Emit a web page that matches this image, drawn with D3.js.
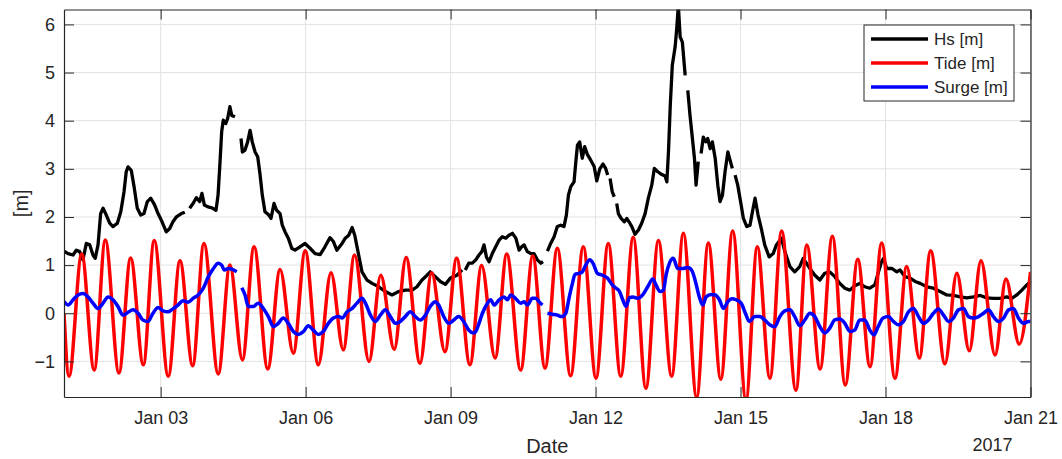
<!DOCTYPE html>
<html>
<head>
<meta charset="utf-8">
<script src="https://cdn.jsdelivr.net/npm/d3@7"></script>
<style>
  html, body { margin: 0; padding: 0; background: #fff; }
  svg { display: block; font-family: "Liberation Sans", Arial, Helvetica, sans-serif; }
</style>
</head>
<body>
<svg id="chart" width="1062" height="459"></svg>
<script>
// Time axis: 1-21 January 2017 (UTC), samples given as [hours since start, value]
const startDate = Date.UTC(2017, 0, 1);
const endDate = Date.UTC(2017, 0, 21);
const xTickDays = [3, 6, 9, 12, 15, 18, 21];
const yTicks = [-1, 0, 1, 2, 3, 4, 5, 6];
const yLimits = [-1.74, 6.31];
const yearLabel = "2017";
const seriesNames = ["Hs [m]", "Tide [m]", "Surge [m]"];
const seriesColors = ["#000000", "#ff0000", "#0000ff"];

// Significant wave height (null = missing record)
const hs = [[0,1.29],[2,1.24],[4.5,1.21],[6.1,1.31],[7.8,1.28],[9.4,1.11],[11.1,1.45],[12.8,1.42],[14.4,1.21],[15.5,1.14],[16.9,1.42],[18.2,2.07],[19.4,2.18],[21,2.04],[22.7,1.87],[24.3,1.8],[26.5,1.87],[28.2,2.11],[29.8,2.52],[30.9,2.94],[31.8,3.04],[33.4,2.97],[34.8,2.63],[36.4,2.18],[38.1,2.04],[39.7,2.07],[41.4,2.32],[43.1,2.39],[45,2.25],[46.7,2.07],[48.7,1.9],[50.8,1.69],[52.5,1.76],[54.1,1.9],[55.8,2],[58.3,2.07],[60,2.1],[61.2,null],[62.4,2.18],[64.1,2.28],[65.7,2.4],[67.4,2.32],[68.5,2.49],[69.7,2.25],[71.5,2.21],[73.5,2.19],[75.5,2.14],[76.5,2.45],[77.5,3.15],[78.3,3.77],[79.1,4.01],[80.3,3.94],[81.3,4.05],[82.4,4.29],[83.3,4.11],[84.9,4.08],[86.4,null],[87.9,3.63],[88.6,3.35],[89.9,3.39],[91.2,3.56],[92.4,3.8],[93.5,3.56],[94.9,3.35],[96.2,3.25],[97.4,2.87],[98.5,2.45],[99.8,2.11],[101.5,2.05],[102.8,1.97],[104.3,2.28],[105.6,2.14],[107.3,2.07],[108.4,1.83],[109.8,1.69],[111.4,1.56],[113.1,1.35],[114.7,1.31],[117.2,1.38],[119.7,1.45],[122.2,1.35],[124.7,1.24],[127.2,1.22],[129.6,1.38],[132.1,1.57],[133.8,1.49],[135.5,1.31],[138.1,1.45],[139.7,1.56],[141.4,1.62],[143.1,1.78],[144.4,1.62],[146,1.28],[148,0.86],[150.5,0.69],[153,0.62],[156.3,0.55],[159.6,0.45],[162.9,0.38],[166.2,0.45],[169.5,0.48],[172.9,0.48],[175.3,0.55],[177.8,0.69],[180.3,0.79],[181.9,0.86],[184.4,0.76],[186.9,0.66],[189.4,0.6],[191.9,0.73],[195.2,0.79],[197.7,0.9],[198.5,null],[199.3,0.9],[201,1.04],[202.8,1.04],[204.5,1.11],[206.1,1.21],[207.5,1.28],[208.6,1.42],[209.8,1.17],[211.1,1.07],[212.7,1.24],[214.4,1.38],[216.1,1.52],[217.7,1.59],[219.4,1.56],[221,1.62],[222.7,1.66],[224.4,1.56],[226,1.31],[227.3,1.38],[228.5,1.42],[230.1,1.28],[231.8,1.24],[233.4,1.24],[235.1,1.11],[236.8,1.04],[237.9,1.07],[239,null],[240.1,1.29],[241.7,1.45],[243.4,1.59],[245,1.8],[246.7,1.83],[248.3,1.8],[249.5,2.04],[250.5,2.45],[251.7,2.63],[253.3,2.73],[254.2,3.15],[255,3.49],[256.1,3.56],[257.4,3.22],[258.6,3.46],[259.9,3.3],[261.6,3.18],[263.3,3.05],[264.6,2.75],[266.1,3.0],[267.7,3.1],[269,3.01],[270,2.87],[270.6,null],[271.2,2.8],[272.3,2.52],[273.3,2.42],[273.8,null],[274.5,2.28],[275.3,2.07],[276.7,1.97],[278.3,1.9],[279.5,1.97],[280.6,1.9],[282,1.8],[283.6,1.64],[285.3,1.73],[286.9,1.87],[288.6,2.07],[290.2,2.39],[291.9,2.66],[293.2,3.01],[294.9,2.94],[296.9,2.88],[298.5,2.85],[299.4,2.73],[300.2,3.35],[301.1,4.32],[302.1,5.15],[303.5,5.53],[304.3,5.91],[305.1,6.4],[306,5.74],[307.1,5.63],[308.5,4.94],[309.2,null],[309.8,4.63],[310.9,4.11],[312.1,3.63],[313.1,3.22],[313.9,2.66],[315,3.15],[315.8,null],[316.4,3.32],[317.5,3.66],[318.7,3.56],[319.7,3.63],[320.9,3.42],[322,3.56],[323.4,3.22],[324.7,2.66],[325.8,2.32],[327,2.45],[328.3,2.94],[329.7,3.35],[330.8,3.18],[331.9,3.01],[332.6,null],[333.3,2.87],[334.6,2.66],[336.3,2.25],[337.4,1.97],[339.1,1.8],[340.7,1.83],[341.9,2.11],[343.2,2.39],[344.7,2.04],[346.3,1.76],[348,1.42],[350.2,1.17],[352.2,1.24],[353.8,1.42],[356.3,1.56],[358,1.28],[360.5,0.97],[362.9,0.86],[365.4,0.97],[367.1,1.14],[368.7,1.04],[370.4,0.93],[372.9,0.79],[375.4,0.69],[377.8,0.83],[380.3,0.86],[382.8,0.76],[385.3,0.62],[387.8,0.52],[390.3,0.48],[392.7,0.57],[395.2,0.62],[397.7,0.55],[400.2,0.52],[402.7,0.59],[404.3,0.83],[406,1.07],[407,1.14],[408.6,0.93],[411.1,0.93],[413.6,0.86],[415.2,0.9],[417.7,0.76],[420.2,0.73],[422.7,0.66],[425.2,0.62],[428.5,0.55],[431.8,0.52],[435.1,0.45],[438.4,0.38],[441.7,0.37],[445.1,0.34],[448.4,0.32],[451.7,0.34],[455,0.37],[458.3,0.32],[461.6,0.31],[464.9,0.31],[468.2,0.34],[470.7,0.31],[473.2,0.38],[475.7,0.48],[478.2,0.59],[480,0.66]];

// Tide level: high and low waters
const tide = [[0,0],[2.5,-1.31],[8.8,1.23],[15,-1.18],[20.5,1.52],[27.3,-1.24],[33.1,1.15],[39.4,-1.07],[44.8,1.51],[51.8,-1.31],[57.6,1.09],[63.9,-1.09],[69.5,1.45],[76.6,-1.26],[82.4,1.0],[88.6,-0.97],[94.4,1.38],[101.2,-1.16],[107.3,0.91],[113.9,-0.83],[119.8,1.3],[126.3,-1.07],[132.6,0.84],[138.7,-0.76],[144.3,1.21],[151.5,-1.0],[157.3,0.79],[164,-0.75],[169.9,1.16],[176.8,-1.04],[182.6,0.84],[189.2,-0.8],[195,1.14],[201.6,-1.07],[207.4,0.99],[214.1,-0.93],[219.9,1.23],[226.8,-1.18],[232.8,1.19],[238.9,-1.14],[245,1.35],[251.6,-1.3],[257.9,1.38],[264.2,-1.35],[270.3,1.45],[276.5,-1.31],[282.7,1.58],[289,-1.56],[295.2,1.51],[301.8,-1.31],[307.6,1.66],[314.2,-1.75],[320,1.46],[326.2,-1.37],[332.1,1.71],[338.7,-1.8],[344.3,1.38],[350.6,-1.35],[356.4,1.71],[363.5,-1.6],[368.9,1.42],[375.5,-1.16],[381.6,1.6],[388,-1.49],[394.2,1.12],[400.3,-1.11],[406.1,1.46],[412.7,-1.35],[418.5,0.97],[424.8,-0.93],[430.4,1.3],[437.5,-1.05],[443.4,0.83],[449.6,-0.78],[455.4,1.09],[462.4,-0.87],[467.8,0.71],[474.4,-0.64],[480,0.86]];

// Storm surge residual (null = missing record)
const surge = [[0,0.24],[2,0.17],[4.5,0.28],[7,0.38],[9.4,0.41],[11.9,0.34],[14.4,0.21],[16.9,0.1],[19.4,0.21],[21.9,0.34],[24.3,0.28],[26.8,0.14],[29.3,-0.04],[31.8,0.02],[34.3,0.07],[36.8,0],[39.2,-0.14],[41.7,-0.17],[44.2,0],[46.7,0.12],[49.2,0.05],[51.7,0.03],[54.1,0.09],[56.6,0.17],[59.1,0.26],[61.6,0.23],[64.1,0.31],[66.6,0.38],[69.2,0.52],[71.7,0.76],[74.2,0.93],[76.6,1.04],[78.3,1.0],[79.6,0.9],[81.6,0.93],[83.6,0.91],[85.8,0.86],[86.5,null],[88.3,0.53],[89.9,0.38],[91.5,0.14],[94,0.14],[96.5,0.21],[99,0.1],[101.5,-0.07],[104,-0.28],[106.4,-0.21],[108.9,-0.1],[111.4,-0.21],[113.9,-0.38],[116.4,-0.44],[118.9,-0.38],[121.3,-0.26],[123.8,-0.35],[126.3,-0.44],[128.8,-0.38],[131.3,-0.21],[133.8,-0.1],[136.3,-0.07],[138.1,-0.1],[140.6,0.03],[143.1,0.1],[145.5,0.21],[148,0.31],[149.7,0.21],[152.2,-0.04],[154.6,-0.17],[157.1,-0.04],[159.6,0.07],[162.1,-0.07],[164.6,-0.21],[167,-0.17],[169.5,-0.07],[172,0.03],[174.5,-0.07],[177,-0.14],[179.5,-0.04],[181.9,0.14],[184.4,0.24],[186.1,0.17],[188.6,-0.07],[191.1,-0.21],[193.6,-0.14],[196,-0.07],[198.5,-0.17],[201,-0.35],[203.5,-0.41],[204.5,-0.38],[206.1,-0.21],[207.8,0],[210.3,0.21],[211.9,0.28],[213.6,0.17],[216.1,0.28],[218.5,0.34],[220.2,0.28],[221.9,0.38],[224.4,0.3],[226.8,0.21],[228.5,0.24],[230.1,0.17],[232.6,0.31],[234.3,0.31],[235.9,0.24],[237.6,0.17],[238.8,null],[240.1,0],[242.5,-0.02],[245,-0.04],[247.2,-0.07],[249.2,0],[250.8,0.31],[252.5,0.62],[253.8,0.81],[255.8,0.83],[257.4,0.86],[259.1,1.0],[261.1,1.11],[262.7,1.04],[264.9,0.83],[267.4,0.79],[269.9,0.73],[272.3,0.59],[274.2,0.52],[275.8,0.46],[277.5,0.28],[279.1,0.14],[280.8,0.32],[282.5,0.34],[285,0.31],[287.4,0.38],[289.9,0.55],[292.4,0.71],[294,0.59],[296,0.45],[297.7,0.48],[299,0.79],[300.7,1.04],[302.6,1.14],[304.8,0.93],[307.3,0.93],[309.8,0.95],[311.9,0.88],[313.6,0.66],[315.5,0.34],[317.2,0.17],[318.9,0.34],[321.4,0.39],[323.5,0.38],[325.5,0.28],[327.5,0.1],[329.7,0.24],[331.8,0.3],[333.8,0.28],[336.3,0.21],[338.4,0],[340.4,-0.17],[343.1,-0.07],[345.5,-0.07],[348,-0.14],[350.5,-0.24],[353,-0.28],[355.5,-0.07],[358,0.05],[360.5,0.07],[362.9,-0.07],[365.4,-0.26],[367.9,-0.14],[370.4,0],[372.9,-0.07],[375.4,-0.28],[377.8,-0.41],[380.3,-0.31],[382.8,-0.14],[385.3,-0.12],[387.8,-0.21],[390.3,-0.38],[392.7,-0.35],[395.2,-0.14],[397.7,-0.14],[400.2,-0.35],[402.3,-0.45],[404.3,-0.28],[406.8,-0.1],[409.4,-0.07],[411.9,-0.17],[414.4,-0.24],[416.9,-0.17],[419.4,0.03],[421.9,0.1],[424.4,-0.07],[426.8,-0.21],[429.3,-0.14],[431.8,0],[434.3,0.09],[436.8,-0.04],[439.3,-0.17],[441.7,-0.1],[444.2,0.07],[446.7,0.1],[449.2,-0.07],[451.7,-0.1],[454.2,-0.07],[456.7,0],[459.2,0.07],[461.6,-0.07],[464.1,-0.17],[466.6,-0.1],[469.1,0.07],[471.5,0.1],[474,-0.1],[476.5,-0.21],[479,-0.17],[480,-0.17]];

// ---- layout ----
const plot = { left: 64, right: 1030.5, top: 9.5, bottom: 397 };
const axisColor = "#262626";
const gridColor = "#e2e2e2";

const svg = d3.select("#chart");
const x = d3.scaleUtc().domain([startDate, endDate]).range([plot.left, plot.right]);
const y = d3.scaleLinear().domain(yLimits).range([plot.bottom, plot.top]);
const toDate = h => new Date(startDate + h * 3600000);
const tickDates = xTickDays.map(d => new Date(Date.UTC(2017, 0, d)));

// grid
const grid = svg.append("g").attr("stroke", gridColor).attr("stroke-width", 1);
grid.selectAll(".gx").data(tickDates).join("line")
  .attr("x1", d => x(d)).attr("x2", d => x(d))
  .attr("y1", plot.top).attr("y2", plot.bottom);
grid.selectAll(".gy").data(yTicks).join("line")
  .attr("x1", plot.left).attr("x2", plot.right)
  .attr("y1", d => y(d)).attr("y2", d => y(d));

// data
svg.append("defs").append("clipPath").attr("id", "plotClip")
  .append("rect")
  .attr("x", plot.left).attr("y", plot.top)
  .attr("width", plot.right - plot.left).attr("height", plot.bottom - plot.top);

const lines = svg.append("g").attr("clip-path", "url(#plotClip)")
  .attr("fill", "none").attr("stroke-linejoin", "round").attr("stroke-linecap", "butt");

const rawLine = d3.line().defined(d => d[1] !== null)
  .x(d => x(toDate(d[0]))).y(d => y(d[1]));
const smoothLine = d3.line().defined(d => d[1] !== null)
  .x(d => x(toDate(d[0]))).y(d => y(d[1])).curve(d3.curveMonotoneX);

lines.append("path").datum(hs).attr("d", rawLine)
  .attr("stroke", seriesColors[0]).attr("stroke-width", 3.3);
lines.append("path").datum(tide).attr("d", smoothLine)
  .attr("stroke", seriesColors[1]).attr("stroke-width", 3.5);
lines.append("path").datum(surge).attr("d", smoothLine)
  .attr("stroke", seriesColors[2]).attr("stroke-width", 3.5);

// axes (ticks drawn inward on all four sides)
function styleAxis(g) {
  g.attr("font-family", null).attr("font-size", null);
  g.select(".domain").attr("stroke", axisColor).attr("stroke-width", 1.2);
  g.selectAll(".tick line").attr("stroke", axisColor).attr("stroke-width", 1);
  g.selectAll(".tick text").attr("fill", axisColor).attr("font-size", 18);
}
svg.append("g").attr("transform", `translate(0,${plot.bottom})`)
  .call(d3.axisBottom(x).tickValues(tickDates).tickFormat(d3.utcFormat("%b %d"))
    .tickSizeInner(-10).tickSizeOuter(0).tickPadding(14))
  .call(styleAxis);
svg.append("g").attr("transform", `translate(0,${plot.top})`)
  .call(d3.axisTop(x).tickValues(tickDates).tickFormat("")
    .tickSizeInner(-10).tickSizeOuter(0))
  .call(styleAxis);
svg.append("g").attr("transform", `translate(${plot.left},0)`)
  .call(d3.axisLeft(y).tickValues(yTicks).tickFormat(d3.format("d"))
    .tickSizeInner(-10).tickSizeOuter(0).tickPadding(9))
  .call(styleAxis);
svg.append("g").attr("transform", `translate(${plot.right},0)`)
  .call(d3.axisRight(y).tickValues(yTicks).tickFormat("")
    .tickSizeInner(-10).tickSizeOuter(0))
  .call(styleAxis);

// axis labels
svg.append("text").attr("x", (plot.left + plot.right) / 2).attr("y", 453)
  .attr("text-anchor", "middle").attr("font-size", 20).attr("fill", axisColor)
  .text("Date");
svg.append("text").attr("x", 992.5).attr("y", 451)
  .attr("text-anchor", "middle").attr("font-size", 18).attr("fill", axisColor)
  .text(yearLabel);
svg.append("text").attr("transform", `translate(27.5,${(plot.top + plot.bottom) / 2}) rotate(-90)`)
  .attr("text-anchor", "middle").attr("font-size", 20).attr("fill", axisColor)
  .text("[m]");

// legend
const legend = svg.append("g").attr("transform", "translate(864,25)");
legend.append("rect").attr("width", 150).attr("height", 76)
  .attr("fill", "#fff").attr("stroke", axisColor).attr("stroke-width", 1);
const items = legend.selectAll(".item").data(seriesNames).join("g")
  .attr("transform", (d, i) => `translate(0,${14 + i * 24})`);
items.append("line").attr("x1", 7).attr("x2", 64)
  .attr("stroke", (d, i) => seriesColors[i]).attr("stroke-width", 3.3);
items.append("text").attr("x", 70).attr("dy", "0.35em")
  .attr("font-size", 17).attr("fill", axisColor).text(d => d);
</script>
</body>
</html>
